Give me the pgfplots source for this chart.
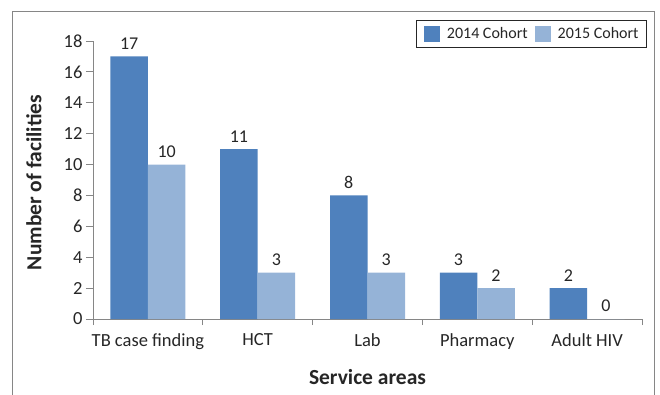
\documentclass[border=0pt]{standalone}
\usepackage{pgfplots}
\pgfplotsset{compat=1.18}
\usepackage{fontspec}
\setmainfont{Carlito}
\definecolor{c14}{HTML}{4F81BD}
\definecolor{c15}{HTML}{95B3D7}
\definecolor{txt}{HTML}{262626}
\definecolor{axg}{HTML}{868686}
\begin{document}
\begin{tikzpicture}[x=1pt,y=1pt]
\useasboundingbox (0,0) rectangle (660,394);
\draw[axg, line width=1pt] (12,-5) -- (12,382) -- (654,382) -- (654,-5);
\begin{axis}[
  at={(93pt,75pt)}, anchor=south west,
  scale only axis, width=549pt, height=278pt,
  ybar=0pt, bar width=37.5pt,
  xmin=-0.5, xmax=4.5, ymin=0, ymax=18,
  ytick={0,2,...,18},
  xtick={0,...,4},
  xticklabels={TB case finding, HCT, Lab, Pharmacy, Adult HIV},
  minor xtick={-0.5,0.5,...,4.5},
  major x tick style={draw=none},
  minor tick length=6pt,
  major tick length=7pt,
  tick align=outside,
  axis x line*=bottom, axis y line*=left,
  axis line style={-, axg, line width=1pt},
  tick style={axg, line width=1pt},
  /pgf/number format/assume math mode=true,
  ticklabel style={font=\fontsize{18.5}{22}\selectfont, text=txt},
  xticklabel style={yshift=-4pt},
  ylabel={Number of facilities},
  xlabel={Service areas},
  label style={font=\fontsize{21.5}{25}\selectfont\bfseries, text=txt},
  ylabel style={at={(axis description cs:-0.1075,0.491)}, anchor=center},
  xlabel style={at={(axis description cs:0.5,-0.209)}, anchor=center},
  nodes near coords,
  nodes near coords style={font=\fontsize{18}{21}\selectfont, text=txt, yshift=3.5pt},
  legend columns=2,
  legend style={at={(axis description cs:1.009,1.0755)}, anchor=north east,
    draw=txt, line width=0.8pt, font=\fontsize{16}{19}\selectfont, text=txt,
    inner xsep=8pt, inner ysep=5pt,
    nodes={inner xsep=0pt, inner ysep=2pt},
    /tikz/every odd column/.append style={column sep=7pt},
    /tikz/every even column/.append style={column sep=7pt}},
  legend image code/.code={\fill[#1] (0pt,-8pt) rectangle (16pt,8pt);},
]
\addplot[fill=c14, draw=none] coordinates {(0,17) (1,11) (2,8) (3,3) (4,2)};
\addplot[fill=c15, draw=none] coordinates {(0,10) (1,3) (2,3) (3,2) (4,0)};
\legend{2014 Cohort, 2015 Cohort}
\end{axis}
\end{tikzpicture}
\end{document}
